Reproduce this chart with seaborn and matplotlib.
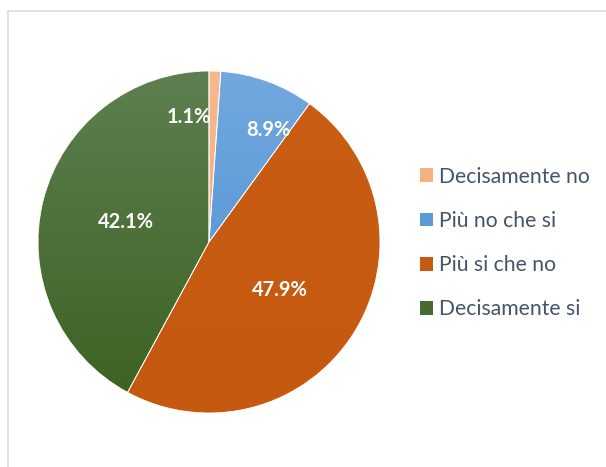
import numpy as np
import matplotlib
matplotlib.use("Agg")
import matplotlib.pyplot as plt
import matplotlib.patches as mpatches
from matplotlib.colors import LinearSegmentedColormap
import seaborn as sns

categories = ["Decisamente no", "Più no che si", "Più si che no", "Decisamente si"]
values = [1.1, 8.9, 47.9, 42.1]
labels = ["1.1%", "8.9%", "47.9%", "42.1%"]
top_colors = ["#F6B88D", "#72A8DE", "#C95D14", "#5E7F50"]
bottom_colors = ["#F2AC7C", "#4A8DD3", "#C4590F", "#3B6120"]
legend_colors = ["#F4B183", "#5B9BD5", "#C55A11", "#48692F"]

sns.set_theme(style="white")
plt.rcParams["font.family"] = ["Lato", "DejaVu Sans"]

fig = plt.figure(figsize=(6.06, 4.67), dpi=100)
fig.patch.set_facecolor("white")

# chart frame (top and left edges visible)
frame = fig.add_axes([8 / 606, -0.1, 1.2, 1 - 11 / 467 + 0.1])
frame.set_xticks([]); frame.set_yticks([])
frame.set_facecolor("none")
for s in frame.spines.values():
    s.set_color("#D9DEE5"); s.set_linewidth(1.2)
frame.set_zorder(-1)

r_px = 171
cx, cy = 209, 242
ax = fig.add_axes([(cx - r_px) / 606, 1 - (cy + r_px) / 467, 2 * r_px / 606, 2 * r_px / 467])
wedges, _ = ax.pie(values, startangle=90, counterclock=False,
                   wedgeprops=dict(edgecolor="white", linewidth=0.6))
ax.set_xlim(-1, 1); ax.set_ylim(-1, 1)
ax.set_aspect("equal")

grad = np.linspace(0, 1, 256).reshape(-1, 1)
for w, ct, cb in zip(wedges, top_colors, bottom_colors):
    cmap = LinearSegmentedColormap.from_list("g", [ct, cb])
    im = ax.imshow(grad, cmap=cmap, extent=(-1, 1, -1, 1), origin="upper",
                   aspect="auto", zorder=1)
    im.set_clip_path(w)
    w.set_facecolor("none")
    w.set_zorder(2)

# label placement: angle (deg from 12 o'clock, clockwise) and radial fraction
cum = np.cumsum([0] + values[:-1])
mid = [(c + v / 2) / 100 * 360 for c, v in zip(cum, values)]
shift = [-11, 8, 2, -1]
rad = [0.74, 0.74, 0.5, 0.5]
for m, s, r, lab in zip(mid, shift, rad, labels):
    a = np.deg2rad(90 - (m + s))
    ax.text(r * np.cos(a), r * np.sin(a), lab, ha="center", va="center",
            color="white", fontsize=14.5, fontweight="bold", zorder=5)

handles = [mpatches.Patch(facecolor=c, edgecolor="none") for c in legend_colors]
leg = fig.legend(handles, categories, loc="center left",
                 bbox_to_anchor=(420 / 606, 1 - 243 / 467), frameon=False,
                 borderpad=0, borderaxespad=0,
                 fontsize=15.2, handlelength=0.62, handleheight=0.62,
                 handletextpad=0.3, labelspacing=1.15)
for t in leg.get_texts():
    t.set_color("#44546A")

fig.savefig("out.png", dpi=100)
